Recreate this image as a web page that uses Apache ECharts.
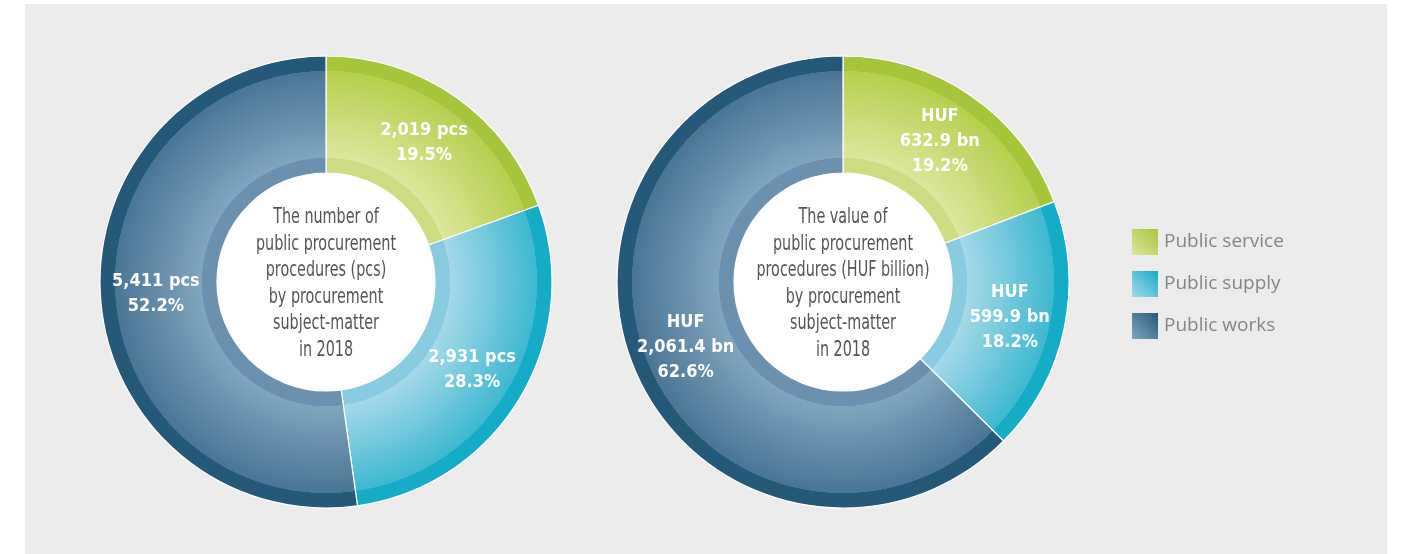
<!DOCTYPE html>
<html>
<head>
<meta charset="utf-8">
<script src="https://cdn.jsdelivr.net/npm/echarts@6/dist/echarts.min.js"></script>
<style>
  html, body { margin: 0; padding: 0; background: #fff; }
  #panel { position: absolute; left: 25px; top: 4px; width: 1362px; height: 550px; background: #ececec; }
  #chart { position: absolute; left: 0; top: 0; width: 1401px; height: 554px; }
</style>
</head>
<body>
<div id="panel"></div>
<div id="chart"></div>
<script>
  // data
  var categories = ['Public service', 'Public supply', 'Public works']
  var countValues = [2019, 2931, 5411]          // pcs
  var valueBillions = [632.9, 599.9, 2061.4]    // HUF billion
  var countTitle = 'The number of\npublic procurement\nprocedures (pcs)\nby procurement\nsubject-matter\nin 2018'
  var valueTitle = 'The value of\npublic procurement\nprocedures (HUF billion)\nby procurement\nsubject-matter\nin 2018'

  // colours: inner band, body inner, body outer, rim
  var palette = [
    ['#cddc82', '#dce79c', '#b6cf4e', '#a7c53b'],
    ['#89cbe0', '#a5d9e9', '#3eb8d0', '#14acc6'],
    ['#6a91b0', '#80a5be', '#4a7595', '#24597a']
  ]

  var narrow = "'Liberation Sans Narrow', 'DejaVu Sans Condensed', sans-serif"
  var R = 226, R0 = 109

  function sliceFill(cx, cy, p) {
    var a = R0 / R, b = 124 / R, c = 211 / R
    return new echarts.graphic.RadialGradient(cx, cy, R, [
      {offset: 0, color: p[0]},
      {offset: a, color: p[0]},
      {offset: b, color: p[0]},
      {offset: b + 0.001, color: p[1]},
      {offset: c, color: p[2]},
      {offset: c + 0.001, color: p[3]},
      {offset: 1, color: p[3]}
    ], true)
  }

  function fmt(v, digits) {
    return v.toLocaleString('en-US', {minimumFractionDigits: digits, maximumFractionDigits: digits})
  }

  function donut(cx, cy, values, labelFn) {
    return [
      {
        type: 'pie',
        center: [cx, cy],
        radius: [R0, R],
        startAngle: 90,
        clockwise: true,
        percentPrecision: 1,
        silent: true,
        itemStyle: {borderColor: '#ffffff', borderWidth: 1.2},
        label: {
          position: 'inside',
          color: '#ffffff',
          fontFamily: narrow,
          fontWeight: 'bold',
          fontSize: 18,
          lineHeight: 25,
          formatter: labelFn
        },
        labelLine: {show: false},
        data: categories.map(function (name, i) {
          return {name: name, value: values[i], itemStyle: {color: sliceFill(cx, cy, palette[i])}}
        })
      },
      {
        // white hole
        type: 'pie',
        center: [cx, cy],
        radius: [0, R0],
        silent: true,
        z: 1,
        label: {show: false},
        labelLine: {show: false},
        data: [{name: 'hole', value: 1, itemStyle: {color: '#ffffff'}}]
      }
    ]
  }

  function centerText(x, y, text) {
    return {
      type: 'text',
      x: x,
      y: y,
      z: 100,
      scaleX: 0.76,
      silent: true,
      style: {
        text: text,
        fill: '#555555',
        fontFamily: narrow,
        fontSize: 21,
        lineHeight: 26.5,
        align: 'center',
        verticalAlign: 'middle'
      }
    }
  }

  var chart = echarts.init(document.getElementById('chart'))
  var options = {
    animation: false,
    legend: {
      orient: 'vertical',
      left: 1132,
      top: 229,
      padding: 0,
      itemWidth: 26,
      itemHeight: 26,
      itemGap: 16,
      icon: 'rect',
      selectedMode: false,
      textStyle: {color: '#858585', fontSize: 19, fontFamily: "'Open Sans', sans-serif", padding: [0, 0, 0, 1]},
      data: categories.map(function (name, i) {
        return {
          name: name,
          itemStyle: {
            borderWidth: 0,
            color: new echarts.graphic.LinearGradient(0, 1, 1, 0, [
              {offset: 0, color: palette[i][1]},
              {offset: 1, color: palette[i][3]}
            ])
          }
        }
      })
    },
    graphic: {
      elements: [
        centerText(326, 284, countTitle),
        centerText(843, 284, valueTitle)
      ]
    },
    series: [].concat(
      donut(326, 282, countValues, function (p) {
        return fmt(p.value, 0) + ' pcs\n' + p.percent.toFixed(1) + '%'
      }),
      donut(843, 282, valueBillions, function (p) {
        return 'HUF\n' + fmt(p.value, 1) + ' bn\n' + p.percent.toFixed(1) + '%'
      })
    )
  }
  chart.setOption(options)
</script>
</body>
</html>
